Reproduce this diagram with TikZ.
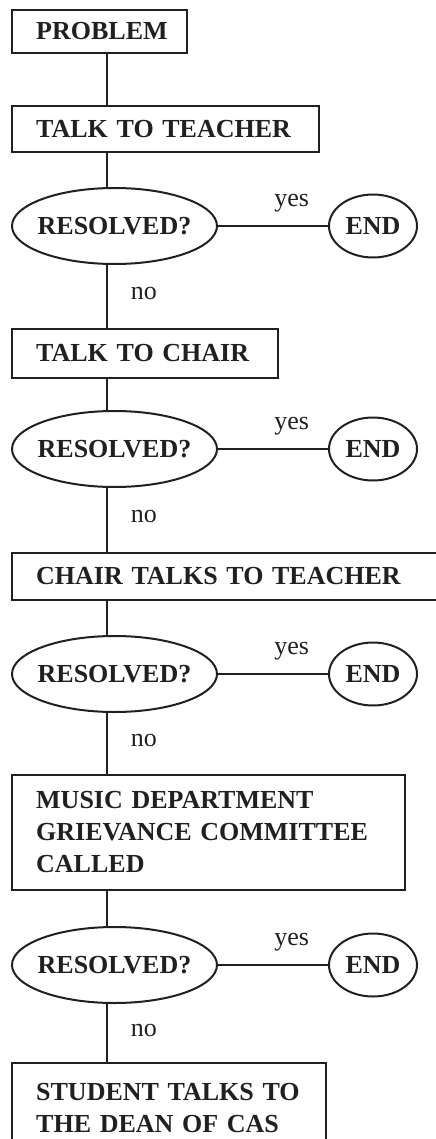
\documentclass[tikz,border=0pt]{standalone}
\usepackage{fontspec}
\setmainfont{Liberation Serif}
\usetikzlibrary{positioning,shapes.geometric}
\definecolor{ink}{HTML}{231F20}
\hyphenpenalty=10000
\exhyphenpenalty=10000

\begin{document}
\begin{tikzpicture}[
	stepbox/.style={draw=ink, line width=1.2pt, rectangle, align=left, inner xsep=12pt, text=ink, font=\fontsize{13}{16}\selectfont\bfseries},
	askoval/.style={draw=ink, line width=1pt, ellipse, inner xsep=-3pt, inner ysep=0pt, minimum width=102.5pt, minimum height=38pt, text=ink, font=\fontsize{13}{16}\selectfont\bfseries},
	endoval/.style={askoval, inner xsep=0pt, minimum width=44pt, minimum height=31.5pt},
	link/.style={draw=ink, line width=1.2pt},
	reply/.style={text=ink, font=\fontsize{13}{16}\selectfont},
]

	\useasboundingbox (0,0) rectangle (217.5pt,-569.5pt);
	\coordinate (spine) at (53.5pt,0);

	\node[stepbox, anchor=north west, text width=63.5pt, minimum height=21.3pt] (problem) at (5.5pt,-4.5pt) {PROBLEM};
	\node[stepbox, below=25.5pt of problem.south west, anchor=north west, text width=129.5pt, minimum height=22.8pt] (teacher) {TALK TO TEACHER};

	\node[askoval, below=36.5pt of teacher.south west, anchor=west] (res1) {RESOLVED?};
	\node[endoval, right=55pt of res1] (end1) {END};

	\node[stepbox, below=51pt of res1.west, anchor=north west, text width=109pt, minimum height=24.3pt] (chair) {TALK TO CHAIR};

	\node[askoval, below=35pt of chair.south west, anchor=west] (res2) {RESOLVED?};
	\node[endoval, right=55pt of res2] (end2) {END};

	\node[stepbox, below=51.5pt of res2.west, anchor=north west, text width=193pt, minimum height=23.3pt] (chairteacher) {CHAIR TALKS TO TEACHER};

	\node[askoval, below=36.5pt of chairteacher.south west, anchor=west] (res3) {RESOLVED?};
	\node[endoval, right=55pt of res3] (end3) {END};

	\node[stepbox, below=50pt of res3.west, anchor=north west, text width=172.5pt, minimum height=57.3pt] (committee) {MUSIC DEPARTMENT\\GRIEVANCE COMMITTEE\\CALLED};

	\node[askoval, below=37pt of committee.south west, anchor=west] (res4) {RESOLVED?};
	\node[endoval, right=55pt of res4] (end4) {END};

	\node[stepbox, below=48.5pt of res4.west, anchor=north west, text width=133pt, inner ysep=10pt] (dean) {STUDENT TALKS TO\\THE DEAN OF CAS};

	% down the column
	\draw[link] (problem.south -| spine) -- (teacher.north -| spine);
	\draw[link] (teacher.south -| spine) -- (res1.north -| spine);
	\draw[link] (res1.south -| spine) -- node[reply, right=8pt, pos=0.45] {no} (chair.north -| spine);
	\draw[link] (chair.south -| spine) -- (res2.north -| spine);
	\draw[link] (res2.south -| spine) -- node[reply, right=8pt, pos=0.45] {no} (chairteacher.north -| spine);
	\draw[link] (chairteacher.south -| spine) -- (res3.north -| spine);
	\draw[link] (res3.south -| spine) -- node[reply, right=8pt, pos=0.45] {no} (committee.north -| spine);
	\draw[link] (committee.south -| spine) -- (res4.north -| spine);
	\draw[link] (res4.south -| spine) -- node[reply, right=8pt, pos=0.45] {no} (dean.north -| spine);

	% yes branches
	\draw[link, line width=1pt] (res1) -- node[reply, above=3pt, pos=0.67] {yes} (end1);
	\draw[link, line width=1pt] (res2) -- node[reply, above=3pt, pos=0.67] {yes} (end2);
	\draw[link, line width=1pt] (res3) -- node[reply, above=3pt, pos=0.67] {yes} (end3);
	\draw[link, line width=1pt] (res4) -- node[reply, above=3pt, pos=0.67] {yes} (end4);

\end{tikzpicture}
\end{document}
